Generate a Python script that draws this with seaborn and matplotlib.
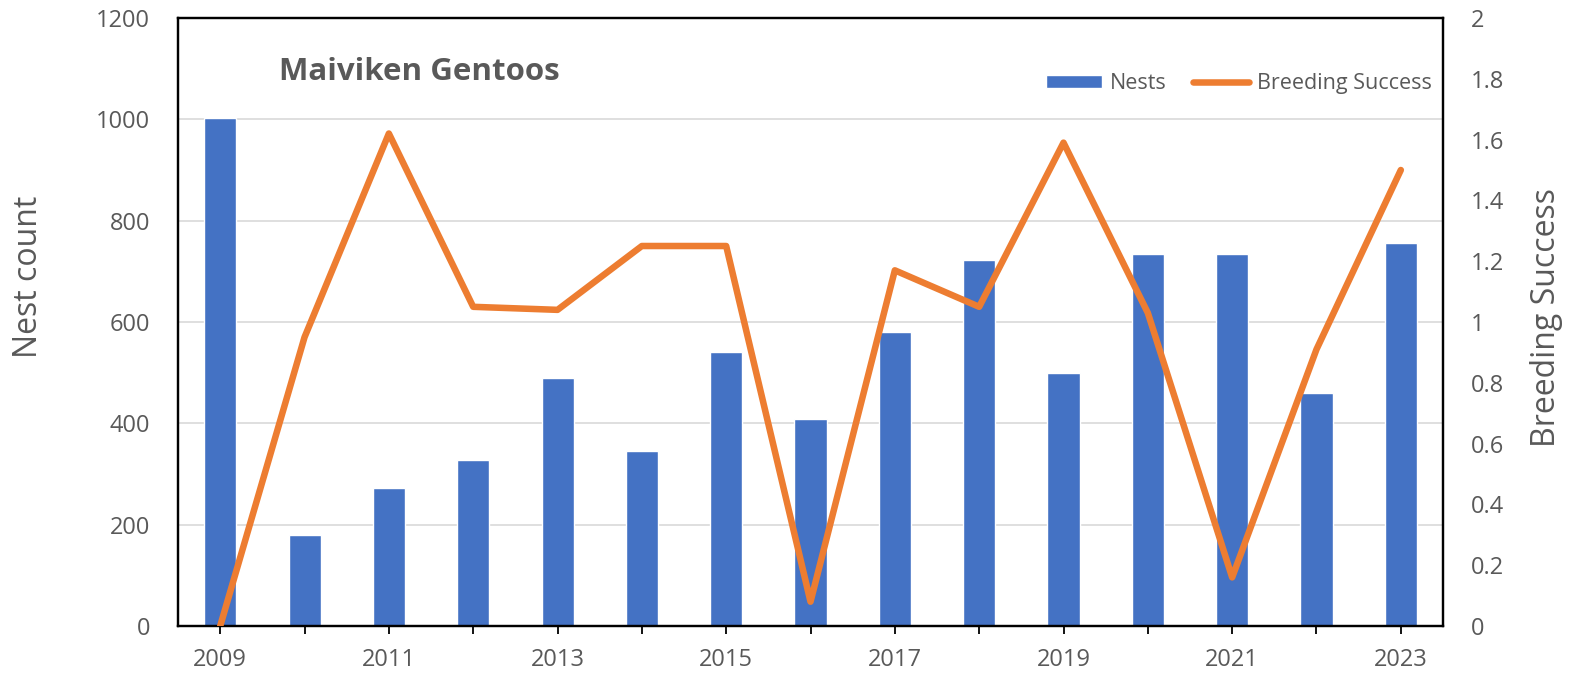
import numpy as np
import pandas as pd
import matplotlib.pyplot as plt
import seaborn as sns
from matplotlib.ticker import FuncFormatter

years = list(range(2009, 2024))
nests = [1003, 180, 273, 328, 490, 345, 541, 409, 580, 722, 500, 735, 735, 460, 755]
breeding = [0.0, 0.95, 1.62, 1.05, 1.04, 1.25, 1.25, 0.08, 1.17, 1.05, 1.59, 1.03, 0.16, 0.91, 1.50]

df = pd.DataFrame({"year": years, "nests": nests, "breeding": breeding})

sns.set_style("white")
plt.rcParams["font.family"] = ["Open Sans", "DejaVu Sans"]

GREY = "#595959"
BLUE = "#4472C4"
ORANGE = "#ED7D31"

fig = plt.figure(figsize=(15.7, 6.79), dpi=100)
ax = fig.add_axes([0.1134, 0.078, 0.8057, 0.8955])

sns.barplot(data=df, x="year", y="nests", native_scale=True, width=0.38,
            color=BLUE, saturation=1, label="Nests", ax=ax, zorder=2)
ax.set_ylim(0, 1200)
ax.set_yticks(range(0, 1201, 200))
ax.set_xlim(2008.5, 2023.5)
ax.set_xticks(years)
ax.set_xticklabels([str(y) if (y - 2009) % 2 == 0 else "" for y in years])
ax.yaxis.grid(True, color="#d9d9d9", lw=1.2)
ax.set_axisbelow(True)

ax2 = ax.twinx()
sns.lineplot(data=df, x="year", y="breeding", color=ORANGE, lw=4.7,
             label="Breeding Success", ax=ax2, zorder=3)
ax2.set_ylim(0, 2)
ax2.set_yticks(np.arange(0, 2.01, 0.2))
ax2.yaxis.set_major_formatter(FuncFormatter(lambda v, p: f"{v:g}"))
ax.set_xlim(2008.5, 2023.5)

for a in (ax, ax2):
    for s in a.spines.values():
        s.set_color("black")
        s.set_linewidth(1.6)
    a.tick_params(axis="y", length=0, labelsize=17, labelcolor=GREY, pad=20)

ax.tick_params(axis="x", length=6, width=1.3, color="black", direction="out",
               labelsize=17, labelcolor=GREY, pad=10, bottom=True)

ax.set_xlabel("")
ax.set_ylabel("Nest count", fontsize=23, color=GREY)
ax.yaxis.set_label_coords(-0.105, 0.574)
ax2.set_ylabel("Breeding Success", fontsize=23, color=GREY)
ax2.yaxis.set_label_coords(1.069, 0.507)

ax.text(0.08, 0.911, "Maiviken Gentoos", transform=ax.transAxes, fontsize=22.5,
        fontweight="bold", color=GREY, va="center", ha="left")

h1, l1 = ax.get_legend_handles_labels()
h2, l2 = ax2.get_legend_handles_labels()
if ax.get_legend():
    ax.get_legend().remove()
ax2.legend(h1 + h2, l1 + l2, loc="center right", bbox_to_anchor=(1.0, 0.892),
           ncol=2, frameon=False, fontsize=15.5, labelcolor=GREY, handlelength=2.6,
           handleheight=0.6, columnspacing=1.2, handletextpad=0.4, borderaxespad=0.1)

fig.savefig("out.png", dpi=100)
